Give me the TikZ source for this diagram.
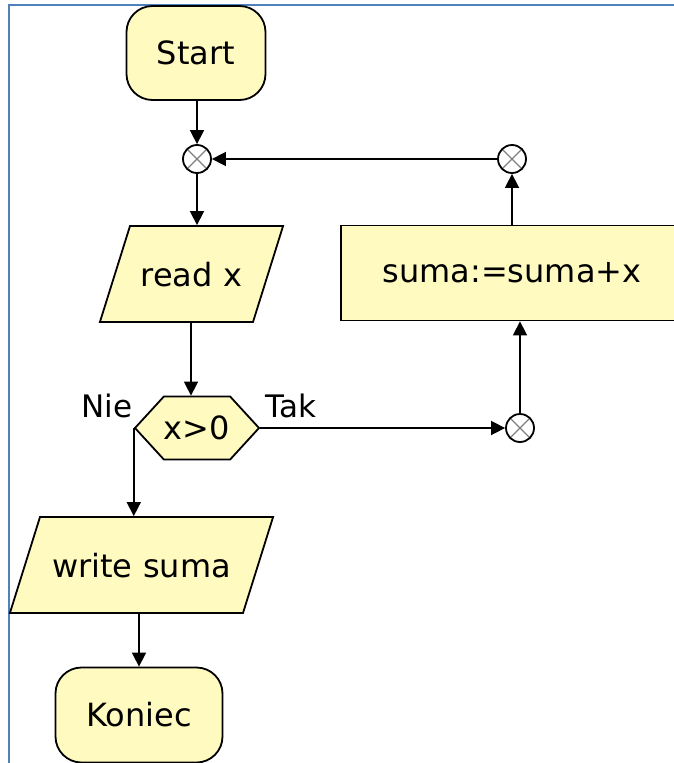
\documentclass[tikz,border=0pt]{standalone}
\usepackage{fontspec}
\setmainfont{DejaVu Sans}
\usetikzlibrary{shapes.geometric,shapes.symbols,arrows.meta}

\definecolor{boxyellow}{RGB}{255,250,192}
\definecolor{frameblue}{RGB}{79,129,189}

\tikzset{
    block/.style={draw,line width=1.8pt,fill=boxyellow,inner sep=0pt,
        font=\fontsize{32}{38}\selectfont},
    terminal/.style={block,rectangle,rounded corners=26pt},
    io/.style={block,trapezium,trapezium left angle=72.6,trapezium right angle=107.4,
        align=center,text height=28pt,text depth=4pt,inner xsep=10pt,inner ysep=32pt},
    decision/.style={block,signal,signal to=west and east,signal pointer angle=95,
        minimum width=124pt,minimum height=63pt},
    junction/.style={circle,draw,line width=1.8pt,fill=white,minimum size=28pt,inner sep=0pt,
        path picture={\draw[gray,line width=1.2pt]
            (path picture bounding box.north west) -- (path picture bounding box.south east)
            (path picture bounding box.north east) -- (path picture bounding box.south west);}},
    flow/.style={line width=1.6pt,-{Triangle[length=14pt,width=14pt]}},
    answer/.style={font=\fontsize{31}{37}\selectfont,inner sep=0pt},
}

\begin{document}
\begin{tikzpicture}[x=1pt,y=-1pt]
    \useasboundingbox (0,0) rectangle (674,763);

    % frame of the page
    \draw[frameblue,line width=2.5pt] (9,763) -- (9,5) -- (674,5);

    % main column
    \node[terminal,minimum width=139pt,minimum height=94pt] (start) at (196,53) {Start};
    \node[junction] (join) at (197,159) {};
    \node[io,text width=103pt] (read) at (191.5,274) {read x};
    \node[decision] (test) at (197,428) {x>0};
    \node[io,text width=183pt] (write) at (141.5,565) {write suma};
    \node[terminal,minimum width=167pt,minimum height=95pt] (stop) at (139,715) {Koniec};

    % loop on the right
    \node[junction] (yes) at (520,428) {};
    \node[block,rectangle,minimum width=342pt,minimum height=95pt] (sum) at (512,273) {suma:=suma+x};
    \node[junction] (back) at (512,159) {};

    % answers of the test
    \node[answer] (nie) at (107,406) {Nie};
    \node[answer] (tak) at (291,406) {Tak};

    % connectors
    \draw[flow] (start.south -| join) -- (join);
    \draw[flow] (join) -- (join |- read.north);
    \draw[flow] ([xshift=-6pt]test.north |- read.south) -- ([xshift=-6pt]test.north);
    \draw[flow] (test.east) -- (yes);
    \draw[flow] (yes) -- (yes |- sum.south);
    \draw[flow] (back |- sum.north) -- (back);
    \draw[flow] (back) -- (join);
    \draw[flow] (test.west) -- (test.west |- write.north);
    \draw[flow] (stop |- write.south) -- (stop);
\end{tikzpicture}
\end{document}
